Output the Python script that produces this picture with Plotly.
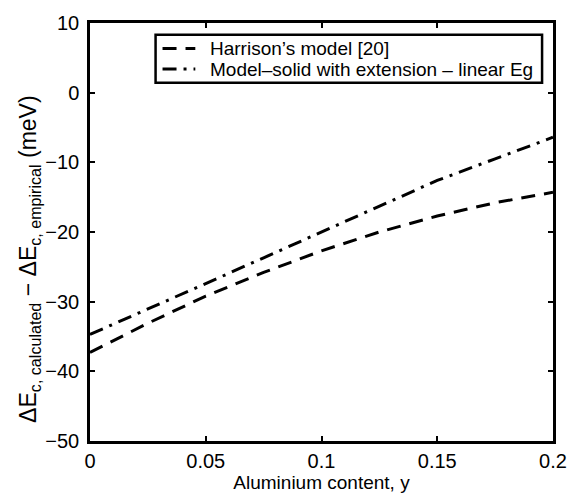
import plotly.graph_objects as go

# Aluminium content (mole fraction)
aluminium_y = [0.0, 0.025, 0.05, 0.075, 0.1, 0.125, 0.15, 0.175, 0.2]

# Conduction-band offset difference, calculated minus empirical (meV)
harrison_dEc = [-37.3, -33.1, -29.2, -25.8, -22.7, -20.0, -17.7, -15.8, -14.3]
model_solid_dEc = [-34.7, -31.1, -27.4, -23.7, -20.0, -16.3, -12.6, -9.5, -6.4]

series_names = ["Harrison\u2019s model [20]", "Model\u2013solid with extension \u2013 linear Eg"]
series_dash = ["14px,9px", "14px,7px,3px,7px"]

x_ticks = [0, 0.05, 0.1, 0.15, 0.2]
x_tick_text = ["0", "0.05", "0.1", "0.15", "0.2"]
y_ticks = [-50, -40, -30, -20, -10, 0, 10]

y_title = "\u0394E<sub>c, calculated</sub> \u2212 \u0394E<sub>c, empirical</sub> (meV)"

font_family = "Liberation Sans, Arial, sans-serif"

W, H = 579, 498
M = dict(l=90, r=23, t=16, b=56)
plot_w = W - M["l"] - M["r"]
plot_h = H - M["t"] - M["b"]


def px_x(px):
    """Horizontal pixel position -> paper coordinate."""
    return (px - M["l"]) / plot_w


def px_y(py):
    """Vertical pixel position (from top) -> paper coordinate."""
    return (H - M["b"] - py) / plot_h


fig = go.Figure()
for values, name, dash in zip([harrison_dEc, model_solid_dEc], series_names, series_dash):
    fig.add_trace(go.Scatter(
        x=aluminium_y, y=values, mode="lines", name=name,
        line=dict(color="black", width=3, dash=dash),
    ))

axis_common = dict(
    showline=True, linecolor="black", linewidth=2.5, mirror="allticks",
    ticks="inside", ticklen=5, tickwidth=2, tickcolor="black",
    showgrid=False, zeroline=False,
    tickfont=dict(family=font_family, size=20, color="black"),
)

fig.update_xaxes(
    range=[0, 0.2], tickvals=x_ticks, ticktext=x_tick_text,
    title=dict(text="Aluminium content, y", standoff=1,
               font=dict(family=font_family, size=19, color="black")),
    **axis_common,
)
fig.update_yaxes(range=[-50, 10], tickvals=y_ticks, ticklabelstandoff=4, **axis_common)

# Vertical axis label placed as a rotated annotation
fig.add_annotation(
    text=y_title, textangle=-90, showarrow=False,
    xref="paper", yref="paper", x=px_x(29), y=px_y(256),
    xanchor="center", yanchor="middle",
    font=dict(family=font_family, size=23, color="black"),
)

# Compact boxed legend in the upper right corner
fig.add_shape(
    type="rect", xref="paper", yref="paper",
    x0=px_x(156), x1=px_x(545), y0=px_y(77), y1=px_y(28),
    line=dict(color="black", width=2.5), fillcolor="white", layer="above",
)
for row_y, name, dash in zip([42, 63], series_names, series_dash):
    fig.add_shape(
        type="line", xref="paper", yref="paper",
        x0=px_x(163), x1=px_x(196), y0=px_y(row_y), y1=px_y(row_y),
        line=dict(color="black", width=3, dash=dash), layer="above",
    )
    fig.add_annotation(
        text=name, showarrow=False, xref="paper", yref="paper",
        x=px_x(209), y=px_y(row_y), xanchor="left", yanchor="middle",
        font=dict(family=font_family, size=19, color="black"),
    )

fig.update_layout(
    width=W, height=H, margin=M,
    paper_bgcolor="white", plot_bgcolor="white",
    showlegend=False,
)

fig.write_html("out.html")
